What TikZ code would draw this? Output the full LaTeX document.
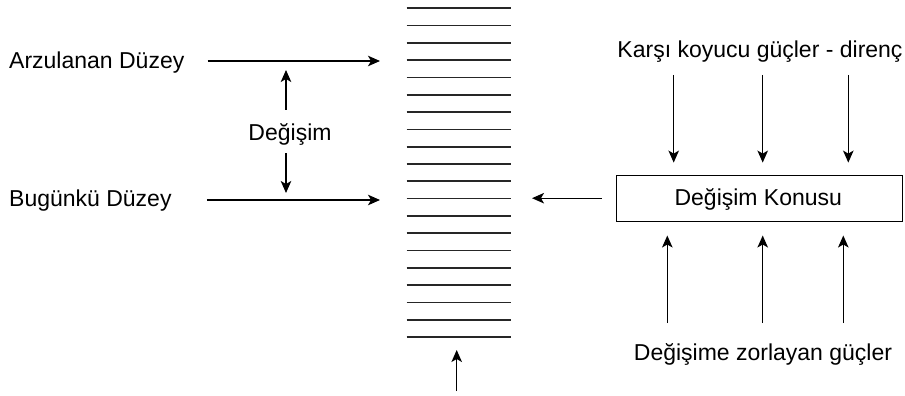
\documentclass[tikz,border=0pt]{standalone}
\usepackage{fontspec}
\setmainfont{Liberation Sans}
\usetikzlibrary{arrows.meta,positioning}
\tikzset{yazi/.style={inner sep=0pt,font=\fontsize{23}{27}\selectfont},
  kutu/.style={draw,line width=1.2pt,minimum width=286pt,minimum height=46pt,inner sep=0pt},
  ok/.style={-{Stealth[length=12pt,width=10.5pt,inset=3pt]},line width=1.3pt},
  kat/.style={line width=1.7pt,black!85}}

\begin{document}
\begin{tikzpicture}[x=1pt,y=-1pt]
\useasboundingbox (0,0) rectangle (905,396);
% levels on the left
\node[yazi,anchor=base west] (arz) at (9,68.5) {Arzulanan Düzey};
\node[yazi,anchor=base west] (bug) at (9,206.5) {Bugünkü Düzey};
\node[yazi,anchor=base] (deg) at (290,140) {Değişim};
\coordinate (arzuc) at (380,61);
\coordinate (buguc) at (380,200);
\draw[ok,shorten <=23pt] (arz.east |- arzuc) -- (arzuc);
\draw[ok,shorten <=35pt] (bug.east |- buguc) -- (buguc);
\coordinate (degust) at (286,70);
\coordinate (degalt) at (286,193);
\draw[ok,shorten <=13pt] (degust |- deg.north) -- (degust);
\draw[ok,shorten <=8pt] (degalt |- deg.south) -- (degalt);
% stack of layers
\foreach \i in {0,...,19}
  \draw[kat] (406.7,8.3+17.3*\i) -- (511,8.3+17.3*\i);
\coordinate (dip) at (456.7,391);
\coordinate (diput) at (456.7,350);
\draw[ok] (dip) -- (diput);
% subject of change and forces
\node[kutu] (kon) at (759.3,198.2) {};
\node[yazi,anchor=base] (kontxt) at (758.3,205) {Değişim Konusu};
\node[yazi,anchor=base] (karsi) at (760,57.3) {Karşı koyucu güçler - direnç};
\node[yazi,anchor=base] (zorla) at (763,360) {Değişime zorlayan güçler};
\coordinate (yigin) at (532,198.2);
\draw[ok,shorten <=14pt] (kon.west) -- (yigin);
\foreach \x [count=\i] in {673.7,762.7,848.3}{
  \coordinate (ust\i) at (\x,75);
  \draw[ok,shorten >=12pt] (ust\i) -- (ust\i |- kon.north);
}
\foreach \x [count=\i] in {667.3,762.7,843.3}{
  \coordinate (alt\i) at (\x,323);
  \draw[ok,shorten >=13.7pt] (alt\i) -- (alt\i |- kon.south);
}
\end{tikzpicture}
\end{document}
